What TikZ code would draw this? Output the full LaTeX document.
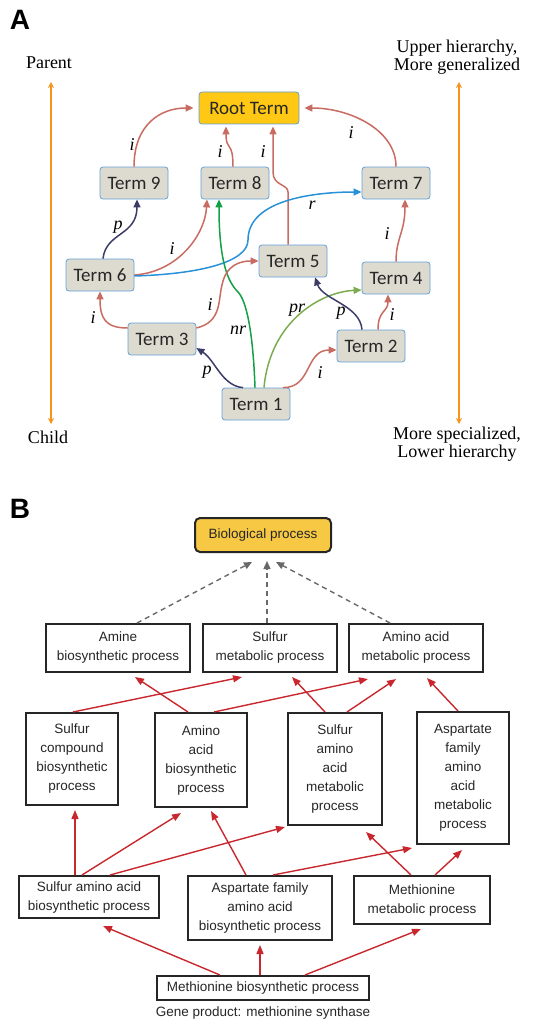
\documentclass[tikz,border=0pt]{standalone}
\usepackage{fontspec}
\setmainfont{Liberation Serif}
\newfontfamily\termfont{Carlito}
\newfontfamily\bfont{Liberation Sans}
\usetikzlibrary{arrows.meta}
\definecolor{termfill}{RGB}{221,219,208}
\definecolor{termborder}{RGB}{100,160,215}
\definecolor{rootfill}{RGB}{255,200,20}
\definecolor{ared}{RGB}{200,108,98}
\definecolor{anavy}{RGB}{60,60,105}
\definecolor{ablue}{RGB}{40,145,215}
\definecolor{agreen}{RGB}{20,160,70}
\definecolor{aolive}{RGB}{125,172,80}
\definecolor{aorange}{RGB}{247,148,29}
\definecolor{bred}{RGB}{200,40,45}
\definecolor{bpfill}{RGB}{246,200,67}
\definecolor{dgray}{RGB}{105,105,105}
\tikzset{
  term/.style={draw=termborder, fill=termfill, rounded corners=3pt, line width=0.8pt,
    minimum width=68pt, minimum height=32pt, inner sep=0pt,
    font=\termfont\fontsize{19}{22}\selectfont, text=black!85},
  rootbox/.style={term, fill=rootfill, minimum width=100pt},
  tipA/.style={-{Triangle[length=8pt,width=7pt]}},
  ered/.style={draw=ared, line width=1.5pt, tipA},
  enavy/.style={draw=anavy, line width=1.5pt, tipA},
  lab/.style={font=\itshape\fontsize{18}{18}\selectfont, inner sep=0pt},
  side/.style={font=\fontsize{18}{18}\selectfont, align=center, inner sep=0pt},
  oarrow/.style={draw=aorange, line width=1.6pt, {Stealth[length=6pt,width=6pt]}-{Stealth[length=6pt,width=6pt]}},
  bbox/.style={draw=black!85, line width=2pt, inner sep=0pt, align=center,
    font=\bfont\fontsize{13.5}{19}\selectfont, text=black!85},
  bredarrow/.style={draw=bred, line width=1.4pt, -{Triangle[length=9pt,width=7pt]}},
  bdash/.style={draw=dgray, line width=1.4pt, dashed, dash pattern=on 5pt off 4pt, -{Triangle[length=8pt,width=7pt]}},
  panel/.style={font=\bfont\bfseries\fontsize{28}{28}\selectfont, inner sep=0pt}
}
\begin{document}
\begin{tikzpicture}[x=1pt,y=-1pt]
\useasboundingbox (0,0) rectangle (544,1022);
% ---------- Panel A ----------
\node[panel] (pa) at (20,20) {A};
\node[side] (parent) at (49,63) {Parent};
\node[side] (child) at (48,437) {Child};
\node[side] (upper) at (457,57) {Upper hierarchy,\\More generalized};
\node[side] (lower) at (457,444) {More specialized,\\Lower hierarchy};
\coordinate (lt) at (51,82);
\coordinate (lb) at (51,424);
\coordinate (rt) at (459,82);
\coordinate (rb) at (459,424);
\draw[oarrow] (lt) -- (lb);
\draw[oarrow] (rt) -- (rb);

\node[rootbox] (root) at (249,108) {Root Term};
\node[term] (t9) at (134,183) {Term 9};
\node[term] (t8) at (235,183) {Term 8};
\node[term] (t7) at (396,183) {Term 7};
\node[term] (t6) at (100,275) {Term 6};
\node[term] (t5) at (293,261) {Term 5};
\node[term] (t4) at (396,278) {Term 4};
\node[term] (t3) at (162,339) {Term 3};
\node[term] (t2) at (371,346) {Term 2};
\node[term] (t1) at (256,404) {Term 1};

\draw[ered] (t9.north) .. controls (134,125) and (160,108) .. ([xshift=-5pt]root.west);
\draw[ered] ([xshift=-2pt]t8.north) .. controls (233,140) and (226,152) .. ([xshift=-23pt,yshift=-2pt]root.south);
\draw[ered] ([xshift=-5pt]t5.north) -- (288,192) .. controls (288,184) and (273,186) .. (273,172) -- ([xshift=24pt,yshift=-2pt]root.south);
\draw[ered] (t7.north) .. controls (396,130) and (350,108) .. ([xshift=5pt]root.east);
\draw[enavy] ([xshift=3pt]t6.north) .. controls (106,232) and (137,236) .. ([xshift=3pt]t9.south);
\draw[ered] (t6.east) .. controls (178,272) and (205,235) .. ([xshift=-28pt]t8.south);
\draw[draw=ablue, line width=1.5pt, tipA] ([yshift=-1pt]t6.east) .. controls (200,274) and (248,262) .. (248,240) .. controls (248,198) and (320,192) .. ([yshift=-9pt]t7.west);
\draw[draw=agreen, line width=1.5pt, tipA] ([xshift=-1pt]t1.north) .. controls (253,330) and (246,300) .. (238,292) .. controls (228,282) and (219,262) .. ([xshift=-16pt]t8.south);
\draw[ered] ([yshift=11pt]t3.west) .. controls (105,328) and (100,318) .. (t6.south);
\draw[ered] ([yshift=11pt]t3.east) .. controls (222,322) and (218,300) .. (222,285) .. controls (226,265) and (240,261) .. (t5.west);
\draw[enavy] ([xshift=-13pt]t1.north) .. controls (222,386) and (215,360) .. ([yshift=-9pt]t3.east);
\draw[draw=aolive, line width=1.5pt, tipA] ([xshift=8pt]t1.north) .. controls (270,322) and (320,292) .. ([yshift=-12pt]t4.west);
\draw[ered] ([xshift=27pt]t1.north) .. controls (312,388) and (305,350) .. ([yshift=-4pt]t2.west);
\draw[enavy] ([xshift=-9pt]t2.north) .. controls (360,305) and (323,300) .. ([xshift=22pt]t5.south);
\draw[ered] ([xshift=7pt]t2.north) .. controls (378,310) and (388,312) .. ([xshift=-8pt]t4.south);
\draw[ered] (t4.north) .. controls (396,238) and (405,232) .. ([xshift=9pt]t7.south);

\node[lab] (l1) at (132,145) {i};
\node[lab] (l2) at (220,152) {i};
\node[lab] (l3) at (263,152) {i};
\node[lab] (l4) at (351,133) {i};
\node[lab] (l5) at (118,227) {p};
\node[lab] (l6) at (312,205) {r};
\node[lab] (l7) at (172,249) {i};
\node[lab] (l8) at (387,234) {i};
\node[lab] (l9) at (93,318) {i};
\node[lab] (l10) at (210,305) {i};
\node[lab] (l11) at (238,330) {nr};
\node[lab] (l12) at (297,310) {pr};
\node[lab] (l13) at (341,313) {p};
\node[lab] (l14) at (392,315) {i};
\node[lab] (l15) at (207,372) {p};
\node[lab] (l16) at (320,373) {i};

% ---------- Panel B ----------
\node[panel] (pb) at (20,509) {B};
\node[bbox, fill=bpfill, rounded corners=5pt, minimum width=136pt, minimum height=34pt] (bp) at (263,535) {Biological process};
\node[bbox, minimum width=144pt, minimum height=48pt] (am) at (118,648) {Amine\\biosynthetic process};
\node[bbox, minimum width=134pt, minimum height=48pt] (sm) at (270,648) {Sulfur\\metabolic process};
\node[bbox, minimum width=134pt, minimum height=48pt] (aam) at (416,648) {Amino acid\\metabolic process};
\node[bbox, minimum width=92pt, minimum height=92pt] (sc) at (72,759) {Sulfur\\compound\\biosynthetic\\process};
\node[bbox, minimum width=92pt, minimum height=94pt] (aab) at (201,760) {Amino\\acid\\biosynthetic\\process};
\node[bbox, minimum width=94pt, minimum height=112pt] (saam) at (335,769) {Sulfur\\amino\\acid\\metabolic\\process};
\node[bbox, minimum width=92pt, minimum height=132pt] (afm) at (463,778) {Aspartate\\family\\amino\\acid\\metabolic\\process};
\node[bbox, minimum width=140pt, minimum height=42pt] (saab) at (89,897) {Sulfur amino acid\\biosynthetic process};
\node[bbox, minimum width=144pt, minimum height=64pt] (afb) at (260,908) {Aspartate family\\amino acid\\biosynthetic process};
\node[bbox, minimum width=136pt, minimum height=48pt] (mm) at (422,900) {Methionine\\metabolic process};
\node[bbox, minimum width=212pt, minimum height=24pt] (mb) at (263,988) {Methionine biosynthetic process};
\node[font=\bfont\fontsize{13.5}{16}\selectfont, text=black!85, inner sep=0pt] (gene) at (263,1013) {Gene product: methionine synthase};

\draw[bdash] ([xshift=19pt]am.north) -- ([xshift=-11pt,yshift=-9pt]bp.south);
\draw[bdash] ([xshift=-3pt]sm.north) -- ([xshift=4pt,yshift=-8pt]bp.south);
\draw[bdash] ([xshift=-26pt]aam.north) -- ([xshift=13pt,yshift=-9pt]bp.south);

\draw[bredarrow] ([xshift=1pt]sc.north) -- ([xshift=-28pt,yshift=-4pt]sm.south);
\draw[bredarrow] ([xshift=-13pt]aab.north) -- ([xshift=17pt,yshift=-4pt]am.south);
\draw[bredarrow] ([xshift=13pt]aab.north) -- ([xshift=-48pt,yshift=-6pt]aam.south);
\draw[bredarrow] ([xshift=-10pt]saam.north) -- ([xshift=22pt,yshift=-4pt]sm.south);
\draw[bredarrow] ([xshift=12pt]saam.north) -- ([xshift=-20pt,yshift=-6pt]aam.south);
\draw[bredarrow] ([xshift=-5pt]afm.north) -- ([xshift=11pt,yshift=-5pt]aam.south);
\draw[bredarrow] ([xshift=-14pt]saab.north) -- ([xshift=3pt,yshift=-4pt]sc.south);
\draw[bredarrow] ([xshift=-7pt]saab.north) -- ([xshift=-20pt,yshift=-5pt]aab.south);
\draw[bredarrow] ([xshift=21pt]saab.north) -- ([xshift=-50pt,yshift=-1pt]saam.south);
\draw[bredarrow] ([xshift=-14pt]afb.north) -- ([xshift=10pt,yshift=-3pt]aab.south);
\draw[bredarrow] ([xshift=13pt]afb.north) -- ([xshift=-51pt,yshift=-3pt]afm.south);
\draw[bredarrow] ([xshift=-11pt]mm.north) -- ([xshift=31pt,yshift=-6pt]saam.south);
\draw[bredarrow] ([xshift=13pt]mm.north) -- ([xshift=-1pt,yshift=-5pt]afm.south);
\draw[bredarrow] ([xshift=-43pt]mb.north) -- ([xshift=14pt,yshift=-7pt]saab.south);
\draw[bredarrow] ([xshift=-3pt]mb.north) -- ([yshift=-4pt]afb.south);
\draw[bredarrow] ([xshift=42pt]mb.north) -- ([xshift=-1pt,yshift=-4pt]mm.south);
\end{tikzpicture}
\end{document}
